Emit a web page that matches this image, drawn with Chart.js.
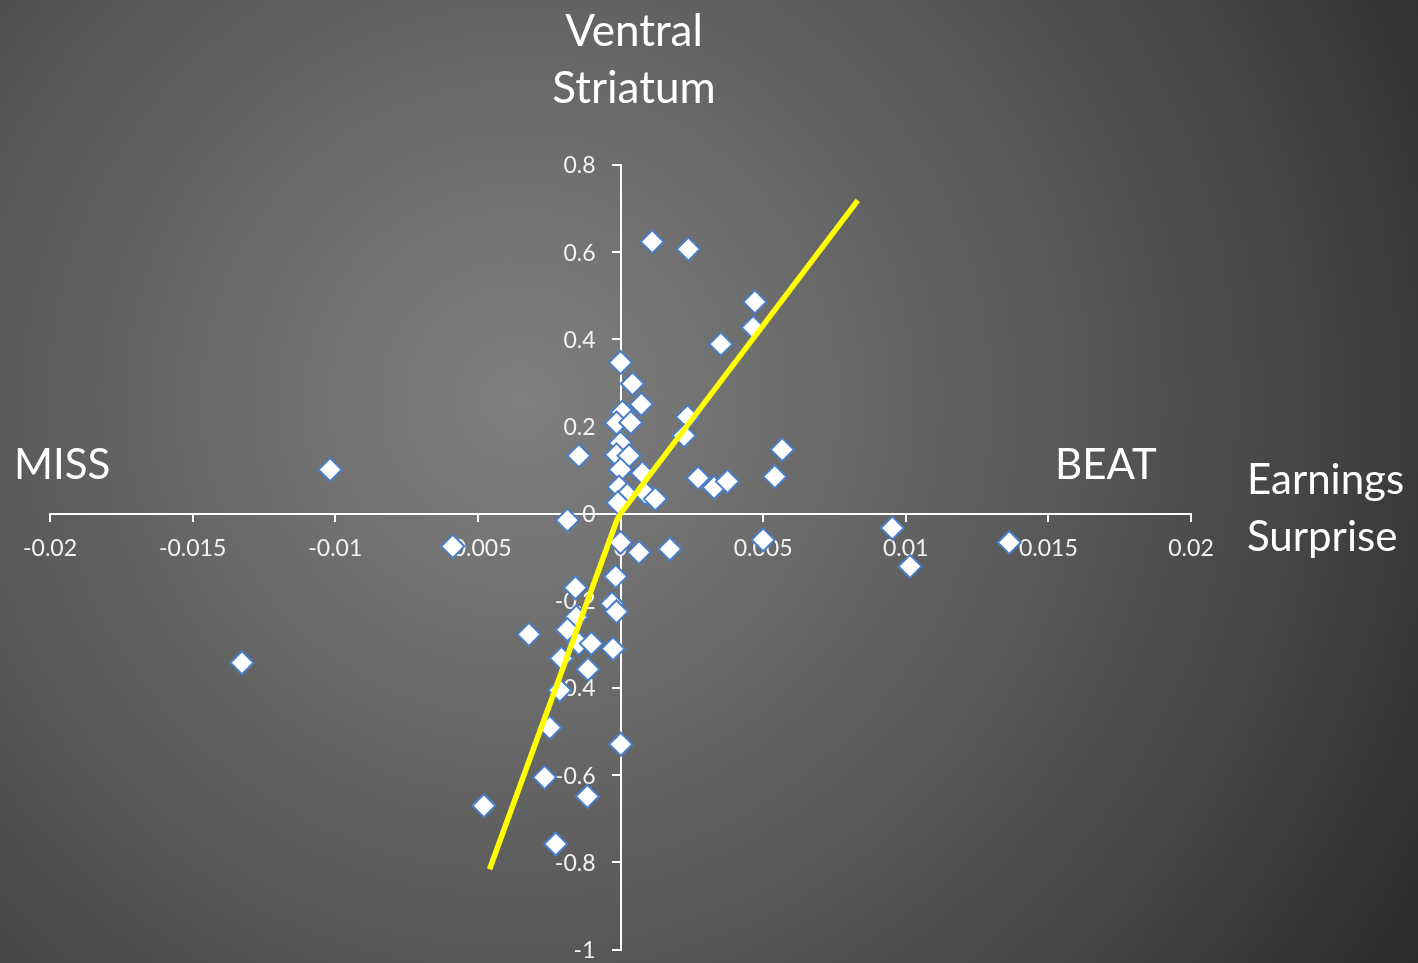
<!DOCTYPE html>
<html>
<head>
<meta charset="utf-8">
<title>Ventral Striatum vs Earnings Surprise</title>
<script src="https://cdn.jsdelivr.net/npm/chart.js@4.4.1/dist/chart.umd.min.js"></script>
<style>
  html, body { margin: 0; padding: 0; background: #5a5a5a; }
  #wrap { position: relative; width: 1418px; height: 963px;
    background: radial-gradient(circle 1060px at 520px 400px, #808080 0%, #595959 50%, #474747 72%, #2a2a2a 100%); }
  canvas { display: block; }
</style>
</head>
<body>
<div id="wrap"><canvas id="chart" width="1418" height="963"></canvas></div>
<script>
// Earnings surprise (x) against ventral striatum response (y), one entry per observation
const surprise = [
  0.00111, 0.00238, 0.00471, 0.00465, 0.00352, 0.00000, 0.00042, 0.00073, 0.00007, -0.00014,
  0.00036, 0.00235, 0.00223, -0.00146, 0.00000, -0.00014, 0.00030, 0.00000, 0.00077, -0.00005,
  0.00024, 0.00087, 0.00122, -0.00009, 0.00272, 0.00328, 0.00375, 0.00541, 0.00567, -0.00186,
  0.00000, 0.00065, 0.00173, 0.00500, -0.00017, -0.00158, -0.00030, -0.00014, -0.00155, -0.00186,
  -0.00321, -0.00146, -0.00102, -0.00026, -0.00207, -0.00114, -0.00213, -0.00248, 0.00001, -0.00266,
  -0.00116, -0.00479, -0.00227, -0.01018, -0.00588, -0.01327, 0.00953, 0.01015, 0.01363
];
const striatum = [
  0.624, 0.607, 0.486, 0.427, 0.389, 0.347, 0.298, 0.251, 0.233, 0.208,
  0.209, 0.222, 0.179, 0.133, 0.162, 0.135, 0.133, 0.101, 0.093, 0.061,
  0.044, 0.047, 0.034, 0.025, 0.082, 0.060, 0.074, 0.085, 0.147, -0.015,
  -0.066, -0.089, -0.081, -0.060, -0.144, -0.170, -0.206, -0.225, -0.237, -0.266,
  -0.277, -0.298, -0.298, -0.310, -0.332, -0.357, -0.405, -0.491, -0.529, -0.605,
  -0.649, -0.670, -0.758, 0.101, -0.075, -0.342, -0.033, -0.121, -0.066
];

// Fitted trend (two limbs meeting at the origin)
const trendX = [-0.00459, -0.00012, 0, 0.00832];
const trendY = [-0.816, -0.014, 0, 0.719];

// Axis ticks
const xTickValues = [-0.02, -0.015, -0.01, -0.005, 0, 0.005, 0.01, 0.015, 0.02];
const xTickLabels = ['-0.02', '-0.015', '-0.01', '-0.005', '0', '0.005', '0.01', '0.015', '0.02'];
const yTickValues = [-1, -0.8, -0.6, -0.4, -0.2, 0, 0.2, 0.4, 0.6, 0.8];
const yTickLabels = ['-1', '-0.8', '-0.6', '-0.4', '-0.2', '0', '0.2', '0.4', '0.6', '0.8'];

const FONT = 'Lato, "Open Sans", sans-serif';
const TICK_COLOR = '#f2f2f2';
const TICK_FONT = '23px ' + FONT;

const points = surprise.map((x, i) => ({ x, y: striatum[i] }));
const trend = trendX.map((x, i) => ({ x, y: trendY[i] }));

// The value axis crosses at x = 0, so its labels are set just left of its tick marks
const yAxisLabels = {
  id: 'yAxisLabels',
  beforeDatasetsDraw(chart) {
    const { ctx, scales: { x, y } } = chart;
    const axisX = x.getPixelForValue(0);
    ctx.save();
    ctx.fillStyle = TICK_COLOR;
    ctx.font = TICK_FONT;
    ctx.textAlign = 'right';
    ctx.textBaseline = 'middle';
    yTickValues.forEach((v, i) => {
      ctx.fillText(yTickLabels[i], axisX - 25, y.getPixelForValue(v) + 1);
    });
    ctx.restore();
  }
};

// Quadrant and axis captions
const captions = {
  id: 'captions',
  beforeDatasetsDraw(chart) {
    const ctx = chart.ctx;
    ctx.save();
    ctx.fillStyle = '#ffffff';
    ctx.textBaseline = 'alphabetic';
    ctx.font = '44px ' + FONT;
    ctx.textAlign = 'center';
    ctx.fillText('Ventral', 634, 46);
    ctx.fillText('Striatum', 634, 103);
    ctx.textAlign = 'left';
    ctx.font = '42px ' + FONT;
    ctx.fillText('MISS', 14, 479);
    ctx.fillText('BEAT', 1055, 479);
    ctx.fillText('Earnings', 1247, 494);
    ctx.fillText('Surprise', 1247, 551);
    ctx.restore();
  }
};

new Chart(document.getElementById('chart'), {
  type: 'scatter',
  data: {
    datasets: [
      {
        type: 'line',
        label: 'Trend',
        data: trend,
        order: 0,
        borderColor: '#ffff00',
        borderWidth: 5.5,
        pointRadius: 0,
        fill: false,
        tension: 0
      },
      {
        label: 'Observations',
        data: points,
        order: 1,
        pointStyle: 'rectRot',
        pointRadius: 11.5,
        pointHoverRadius: 11.5,
        backgroundColor: '#ffffff',
        borderColor: '#4a7ec8',
        borderWidth: 2
      }
    ]
  },
  options: {
    responsive: false,
    animation: false,
    layout: { padding: { left: 50, right: 227, top: 165, bottom: 12 } },
    plugins: { legend: { display: false }, tooltip: { enabled: false } },
    scales: {
      x: {
        type: 'linear',
        position: { y: 0 },
        min: -0.02,
        max: 0.02,
        afterBuildTicks(scale) { scale.ticks = xTickValues.map(v => ({ value: v })); },
        ticks: {
          color: TICK_COLOR,
          font: { family: FONT, size: 23 },
          padding: 14,
          maxRotation: 0,
          autoSkip: false,
          callback(v) { const i = xTickValues.findIndex(t => Math.abs(t - v) < 1e-9); return i >= 0 ? xTickLabels[i] : ''; }
        },
        grid: { drawOnChartArea: false, drawTicks: true, tickLength: 7, color: '#ffffff', lineWidth: 2 },
        border: { display: true, color: '#ffffff', width: 2 }
      },
      y: {
        type: 'linear',
        position: { x: 0 },
        min: -1,
        max: 0.8,
        afterBuildTicks(scale) { scale.ticks = yTickValues.map(v => ({ value: v })); },
        ticks: { display: false },
        grid: { drawOnChartArea: false, drawTicks: true, tickLength: 8, color: '#ffffff', lineWidth: 2 },
        border: { display: true, color: '#ffffff', width: 2 }
      }
    }
  },
  plugins: [yAxisLabels, captions]
});
</script>
</body>
</html>
